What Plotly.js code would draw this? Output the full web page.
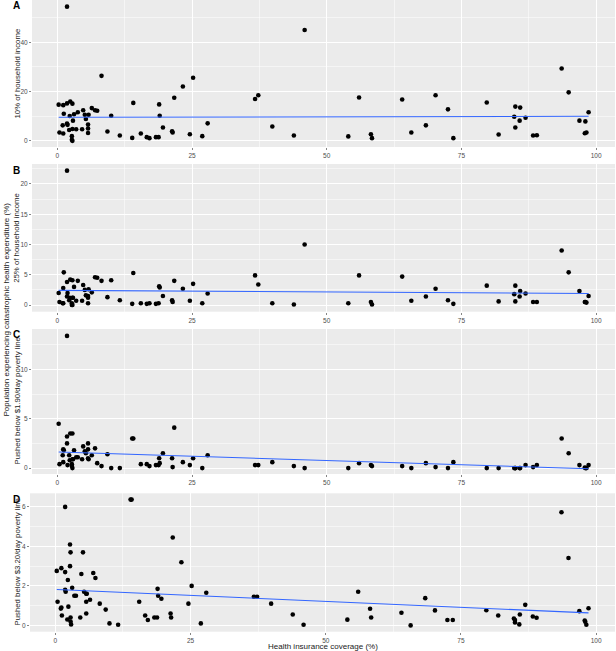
<!DOCTYPE html>
<html>
<head>
<meta charset="utf-8">
<script src="https://cdn.plot.ly/plotly-3.0.1.min.js"></script>
<style>html,body{margin:0;padding:0;background:#fff;}#chart{width:616px;height:651px;}</style>
</head>
<body>
<div id="chart"></div>
<script>
// Health insurance coverage (%) per country
const coverage = [0.25,0.4,1.0,1.1,1.1,1.2,1.8,1.8,1.8,1.9,2.2,2.3,2.4,2.7,2.7,2.8,2.8,2.8,2.9,3.1,3.5,3.8,4.6,4.8,5.1,5.3,5.7,5.7,5.7,5.8,6.4,7.0,7.4,8.2,9.3,10.0,11.6,13.9,14.1,15.5,16.6,17.1,18.3,18.8,18.9,19.0,19.6,21.3,21.4,21.7,23.3,24.6,25.2,26.9,27.9,36.7,37.3,39.9,43.9,45.9,54.0,56.0,58.2,58.4,64.0,65.7,68.4,70.2,72.5,73.5,79.7,81.9,84.8,85.0,85.0,85.8,85.9,86.9,88.3,89.0,93.6,94.9,96.9,97.9,98.0,98.2,98.6];
// A: 10% of household income
const cat10 = [14.7,3.4,6.3,14.5,3.0,11.0,54.5,15.2,7.0,6.5,4.4,10.1,16.0,1.9,0.4,15.1,4.8,0.0,8.2,10.8,4.7,11.6,4.7,12.4,10.6,8.9,6.6,5.0,3.2,10.6,13.3,12.4,12.2,26.4,3.8,10.2,2.2,1.2,15.4,3.0,1.5,1.1,1.5,1.5,14.8,10.2,5.4,3.9,3.4,17.5,22.1,2.7,25.6,1.9,7.1,17.0,18.5,5.8,2.2,45.0,1.8,17.6,2.7,1.1,16.8,3.4,6.3,18.5,12.8,1.1,15.6,2.6,9.8,13.9,5.4,8.2,13.5,9.4,2.2,2.3,29.4,19.7,8.2,3.1,7.9,3.4,11.6];
// B: 25% of household income
const cat25 = [2.0,0.5,0.3,2.8,0.3,5.4,22.2,3.8,1.4,2.0,0.8,1.2,4.2,0.3,0.0,4.1,1.2,0.0,1.2,3.0,0.7,4.0,0.7,3.3,2.5,1.6,1.5,1.2,0.3,2.6,2.1,4.6,4.5,4.0,1.3,4.1,0.8,0.2,5.3,0.3,0.2,0.3,0.2,0.3,3.1,2.9,1.5,0.8,0.5,4.0,2.7,0.7,3.5,0.3,1.9,4.9,3.4,0.3,0.1,10.0,0.3,4.9,0.5,0.1,4.7,0.7,1.4,2.7,0.8,0.2,3.2,0.6,1.8,3.2,0.6,1.4,2.3,1.9,0.5,0.5,9.0,5.4,2.3,0.5,0.5,0.4,1.5];
// C: pushed below $1.90/day poverty line
const pov190 = [4.5,0.4,1.3,1.9,0.6,1.8,13.4,3.2,2.5,0.3,1.3,0.8,3.5,0.4,0.2,3.5,0.0,0.9,0.9,1.8,1.1,1.1,0.9,2.2,1.7,1.5,1.0,1.9,2.5,0.9,1.3,2.0,0.5,0.2,1.4,0.0,0.0,3.0,3.0,0.4,0.4,0.2,0.3,0.3,1.0,0.5,1.5,1.0,0.1,4.1,0.6,0.3,1.0,0.0,1.3,0.3,0.3,0.6,0.2,0.0,0.0,0.5,0.3,0.2,0.2,0.0,0.5,0.1,0.0,0.6,0.0,0.0,0.0,0.0,0.0,0.0,0.0,0.3,0.1,0.3,3.0,1.5,0.3,0.05,0.0,0.0,0.3];
// D: pushed below $3.20/day poverty line
const pov320 = [2.76,1.2,0.85,0.9,2.9,0.5,6.0,2.7,1.8,1.7,0.3,2.3,0.95,4.1,3.0,3.7,0.4,0.2,0.05,1.9,1.5,1.5,0.4,2.6,3.7,1.7,1.2,0.6,1.6,1.6,1.3,2.65,2.4,1.1,0.8,0.1,0.03,6.37,6.37,1.2,0.5,0.27,0.4,0.4,1.85,1.5,1.35,0.6,0.4,4.45,3.2,1.1,2.0,0.1,1.65,1.45,1.45,1.1,0.55,0.03,0.29,1.7,0.84,0.4,0.64,0.0,1.38,0.76,0.27,0.27,0.77,0.5,0.35,0.27,0.15,0.05,0.55,1.04,0.45,0.39,5.73,3.41,0.72,0.25,0.18,0.03,0.87];

const panelLetters = ['A','B','C','D'];
const panelTitles = ['10% of household income','25% of household income','Pushed below $1.90/day poverty line','Pushed below $3.20/day poverty line'];
const xTicks = [0,25,50,75,100];
const xTitle = 'Health insurance coverage (%)';
const yTitle = 'Population experiencing catastrophic health expenditure (%)';

const series = [cat10, cat25, pov190, pov320];
const yRanges = [[-2.5,57.2],[-1.1,23.3],[-0.6,14.1],[-0.32,6.69]];
const yDticks = [20,5,5,2];
// panel pixel boxes: [top, bottom, left]
const W = 616, H = 651;
const boxes = [[0,147,32],[164,311.7,32],[329,474,32],[493.3,631.7,30]];

const FONT = 'Liberation Sans, Arial, sans-serif';
function lm(x, y){
  const n = x.length; let sx=0, sy=0, sxx=0, sxy=0;
  for(let i=0;i<n;i++){sx+=x[i]; sy+=y[i]; sxx+=x[i]*x[i]; sxy+=x[i]*y[i];}
  const b = (n*sxy - sx*sy)/(n*sxx - sx*sx);
  const a = (sy - b*sx)/n;
  return [a,b];
}
const xmin = Math.min(...coverage), xmax = Math.max(...coverage);
const data = [];
const layout = {
  width: W, height: H,
  margin: {l:0, r:0, t:0, b:0},
  paper_bgcolor: '#FFFFFF', plot_bgcolor: '#EBEBEB',
  showlegend: false,
  font: {family: FONT, color: '#000'},
  annotations: []
};
series.forEach((ys, i) => {
  const k = i === 0 ? '' : String(i+1);
  data.push({x: coverage, y: ys, type: 'scatter', mode: 'markers',
    marker: {color: '#000000', size: 4.6}, xaxis: 'x'+k, yaxis: 'y'+k, hoverinfo: 'skip'});
  const [a,b] = lm(coverage, ys);
  const lx = [], ly = [];
  for (let j=0;j<=20;j++){ const xv = xmin + (xmax-xmin)*j/20; lx.push(xv); ly.push(a+b*xv); }
  data.push({x: lx, y: ly, type: 'scatter', mode: 'lines',
    line: {color: '#3366FF', width: 1.1}, xaxis: 'x'+k, yaxis: 'y'+k, hoverinfo: 'skip'});
  const [top, bot, left] = boxes[i];
  const common = {
    showgrid: true, gridcolor: '#FFFFFF', gridwidth: 1, zeroline: false, showline: false,
    ticks: 'outside', ticklen: 2, tickcolor: '#333333', tickwidth: 0.6,
    tickfont: {family: FONT, size: 6.5, color: '#4D4D4D'}, automargin: false, fixedrange: true
  };
  layout['xaxis'+k] = Object.assign({}, common, {
    domain: [left/W, 615/W], range: [-4.7, 103.5], anchor: 'y'+k,
    tickmode: 'array', tickvals: xTicks, ticktext: xTicks.map(String),
    minor: {tickvals: [12.5,37.5,62.5,87.5], showgrid: true, gridcolor: '#FFFFFF', gridwidth: 0.5, ticks: ''}
  });
  const dt = yDticks[i];
  const yt = [], ym = [];
  for (let v=0; v<=yRanges[i][1]; v+=dt) yt.push(v);
  for (let v=dt/2; v<=yRanges[i][1]; v+=dt) ym.push(v);
  layout['yaxis'+k] = Object.assign({}, common, {
    domain: [(H-bot)/H, (H-top)/H], range: yRanges[i], anchor: 'x'+k,
    tickmode: 'array', tickvals: yt, ticktext: yt.map(String),
    minor: {tickvals: ym, showgrid: true, gridcolor: '#FFFFFF', gridwidth: 0.5, ticks: ''}
  });
  layout.annotations.push({text: '<b>'+panelLetters[i]+'</b>', xref: 'paper', yref: 'paper',
    x: 16/W, y: (H-(top+6))/H, xanchor: 'center', yanchor: 'middle', showarrow: false,
    font: {family: FONT, size: 10, color: '#000'}});
  layout.annotations.push({text: panelTitles[i], xref: 'paper', yref: 'paper', textangle: -90,
    x: 17/W, y: (H-(top+bot)/2)/H, xanchor: 'center', yanchor: 'middle', showarrow: false,
    font: {family: FONT, size: 7.8, color: '#1A1A1A'}});
});
layout.annotations.push({text: yTitle, xref: 'paper', yref: 'paper', textangle: -90,
  x: 5.5/W, y: (H-310)/H, xanchor: 'center', yanchor: 'middle', showarrow: false,
  font: {family: FONT, size: 8, color: '#1A1A1A'}});
layout.annotations.push({text: xTitle, xref: 'paper', yref: 'paper',
  x: 322.5/W, y: (H-646.5)/H, xanchor: 'center', yanchor: 'middle', showarrow: false,
  font: {family: FONT, size: 8, color: '#1A1A1A'}});

Plotly.newPlot('chart', data, layout, {staticPlot: true, displayModeBar: false});
</script>
</body>
</html>
